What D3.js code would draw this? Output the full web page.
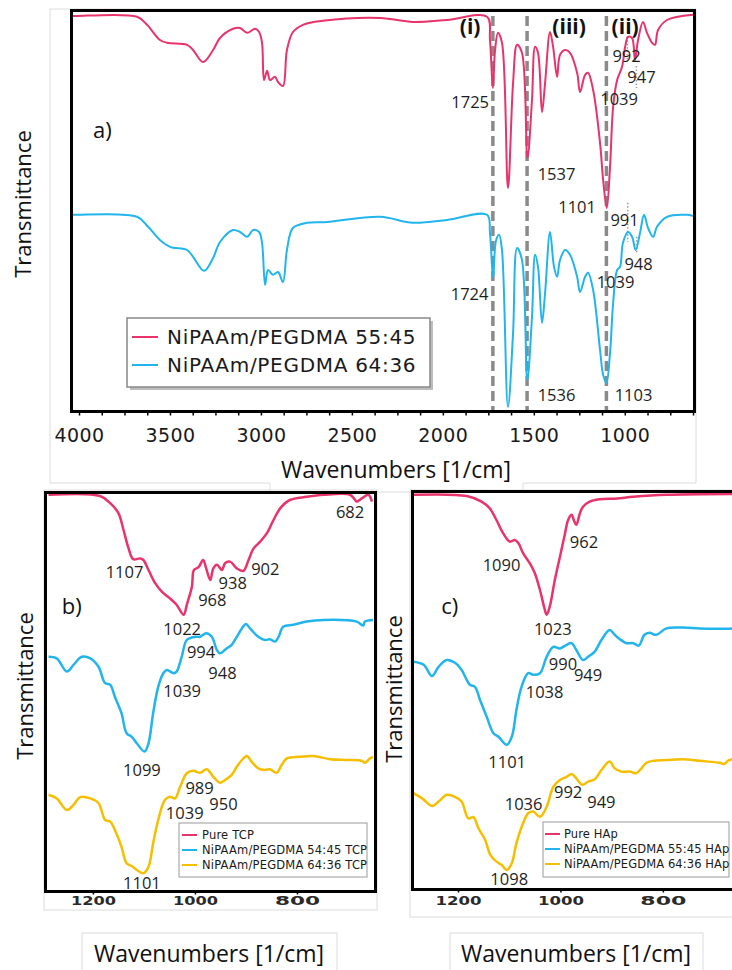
<!DOCTYPE html>
<html>
<head>
<meta charset="utf-8">
<script src="https://d3js.org/d3.v7.min.js"></script>
<style>
  body { margin: 0; background: #fff; }
  svg { display: block; }
</style>
</head>
<body>
<div id="chart"></div>
<script>
// ---------- data: [wavenumber 1/cm, transmittance a.u.] ----------

// panel a) hydrogels
const gelA5545 = [[4033,98.5],[4011,98.5],[3681,98.3],[3626,96.3],[3555,92.5],[3516,91.8],[3406,91.3],[3373,90],[3318,87],[3263,90],[3225,93],[3153,95.3],[3115,95.5],[3076,94.3],[3032,95.3],[3010,94.5],[2994,91.8],[2983,82.5],[2966,84.8],[2950,82.5],[2923,83.3],[2906,82],[2879,81],[2857,90],[2824,94.5],[2769,96.3],[2659,97.3],[2345,98],[2164,97],[1977,97.5],[1757,98.3],[1741,92.5],[1725,80.5],[1713,90],[1697,94.3],[1675,91.8],[1642,55.5],[1614,81.8],[1592,91.3],[1565,89.3],[1535,63],[1510,77.5],[1493,90.8],[1477,89.3],[1455,74.5],[1438,81.8],[1411,94.5],[1394,90.8],[1372,83.3],[1356,88.8],[1328,90],[1301,89.3],[1262,84.3],[1246,79.5],[1218,83.8],[1202,84.3],[1174,80],[1136,66.8],[1119,57.5],[1099,50.5],[1081,60.8],[1064,75.8],[1042,82.5],[1015,85.8],[998,90.8],[982,93.3],[960,93],[944,87.5],[927,92.5],[900,97],[878,94.3],[850,91.8],[834,91.3],[817,95],[768,97.5],[625,98.8]];
const gelA6436 = [[4033,48.8],[4011,48.8],[3681,48.3],[3620,45.8],[3555,42.5],[3500,40.8],[3406,40],[3373,38.3],[3312,34.8],[3263,38],[3225,42],[3153,45],[3115,44.5],[3076,43.3],[3043,45],[3010,44.5],[2994,41.8],[2977,31.3],[2961,35],[2934,33.8],[2906,34.5],[2879,32],[2857,40],[2824,45.5],[2747,46.8],[2637,47],[2345,48.3],[2164,46.8],[1977,47.5],[1757,48.8],[1741,44.3],[1724,33],[1708,42.3],[1691,43.8],[1675,40],[1642,0.8],[1614,19.3],[1592,40.5],[1565,37.5],[1536,7.5],[1510,23.3],[1493,38.8],[1477,35.8],[1455,21.8],[1438,29.3],[1411,44.5],[1389,35.8],[1372,33.3],[1356,37.5],[1328,40],[1301,38.8],[1262,33.3],[1246,29.5],[1218,33.3],[1202,34.3],[1174,30],[1136,15],[1119,8.8],[1101,6.8],[1081,14.3],[1064,26.8],[1042,35],[1026,35.8],[1010,41.8],[982,44.5],[960,43.3],[940,40],[916,44.3],[894,48.8],[872,45.5],[844,43.3],[823,45.8],[768,48.3],[657,48.8],[625,48.5]];

// panel b) TCP
const tcpPure = [[1287,98.8],[1186,98.5],[1166,96.7],[1150,94.2],[1140,90],[1131,85.8],[1121,82.7],[1107,82.9],[1101,82.5],[1091,80],[1078,76.7],[1065,74.6],[1049,72.9],[1036,71.3],[1022,68.8],[1016,71.3],[1006,75.8],[1002,80],[993,80.7],[984,82.5],[978,80.4],[970,77.5],[964,80.4],[957,81.3],[947,80],[941,81.7],[931,82.1],[918,80.4],[905,79.8],[895,82.5],[885,85.4],[872,87.1],[859,89.2],[846,92.5],[833,95.4],[814,97.5],[781,98.3],[748,98.8],[696,98.8],[686,97.5],[683,97.1],[673,97.9],[660,98.8],[653,97.1]];
const tcp5445 = [[1287,58.3],[1271,57.9],[1251,54.6],[1238,56.3],[1222,58.3],[1205,57.9],[1189,55.8],[1176,51.7],[1166,51.3],[1157,48.3],[1144,44.2],[1134,39.2],[1124,38.3],[1114,36.7],[1099,34.6],[1091,36.7],[1082,44.2],[1072,50.8],[1062,54.2],[1055,55],[1042,54.2],[1036,54.6],[1026,58.3],[1016,62.5],[1000,63.3],[990,63.3],[978,64.2],[967,63.3],[957,60],[951,59.2],[938,60.4],[928,61.3],[918,63.3],[908,65.4],[900,66.5],[892,65.4],[876,63.3],[863,62.5],[853,62.7],[843,62.1],[836,63.3],[827,65.8],[807,66.3],[781,67.1],[748,67.5],[683,67.1],[670,66.1],[667,67.1],[651,67.5]];
const tcp6436 = [[1287,23.8],[1271,22.9],[1251,20],[1238,21.3],[1225,23.2],[1205,22.9],[1189,21.7],[1176,17.5],[1166,17.1],[1157,15],[1144,10.8],[1134,6.7],[1124,6],[1114,5],[1101,4.2],[1091,5.8],[1082,11.7],[1072,17.5],[1059,22.5],[1049,23.3],[1039,22.9],[1029,25.8],[1016,29.2],[1003,29.8],[990,29.3],[977,30.2],[964,28.3],[951,26.8],[941,27.5],[928,28.8],[918,30.8],[908,32.5],[898,33.5],[889,32.1],[876,30.4],[863,30],[853,30.2],[840,29.3],[830,31.3],[820,32.9],[794,33.3],[768,33.5],[735,32.7],[703,32.5],[673,32.3],[667,31.8],[657,32.9],[651,33.3]];

// panel c) HAp
const hapPure = [[1287,98.3],[1183,98],[1154,96.6],[1138,94.9],[1125,92],[1112,88.7],[1099,86.6],[1089,87],[1082,86.2],[1073,83.7],[1060,81.2],[1050,78.7],[1040,74.5],[1032,70.3],[1027,68.3],[1021,70.3],[1011,77],[1001,82.8],[991,88.7],[985,92],[978,93.3],[974,92],[969,90.8],[962,93.7],[956,95.3],[943,96.6],[923,97.2],[890,97.4],[858,97.8],[793,98.3],[665,98.5]];
const hap5545 = [[1287,56.6],[1267,55.8],[1251,53],[1238,55.3],[1222,57],[1206,56.3],[1193,54.5],[1177,50.8],[1167,50.3],[1157,47],[1144,42.8],[1131,38.7],[1121,37.8],[1105,35.8],[1095,37.8],[1086,44.5],[1076,50.3],[1063,53.7],[1053,53.3],[1040,53.7],[1027,57.8],[1014,60.3],[1001,59.9],[988,60.8],[978,61.2],[969,59.5],[956,57],[946,57.8],[933,59.1],[920,62],[904,64.5],[894,63.3],[884,62.2],[871,61.2],[858,61.2],[847,60.6],[836,63.3],[826,63.8],[813,63.3],[793,64.9],[761,65.1],[728,64.9],[676,64.8],[665,64.9]];
const hap6436 = [[1287,23.7],[1270,22.4],[1251,20.5],[1238,21.6],[1222,23.3],[1206,22.8],[1193,21.6],[1180,17.4],[1170,17.7],[1160,14.9],[1147,12],[1137,8.3],[1125,6.6],[1115,5.8],[1105,4.5],[1095,6.2],[1086,11.2],[1073,16.2],[1063,18.7],[1053,19.1],[1040,17.8],[1027,20.3],[1014,25.3],[1001,27],[988,27.8],[978,28.5],[969,27.4],[957,25.8],[946,26.6],[933,27.2],[920,29.5],[904,31.6],[894,29.9],[881,29.1],[865,29.1],[852,28.7],[842,29.9],[832,31.3],[819,31.8],[793,32],[761,32.2],[728,31.8],[689,31.3],[680,31],[673,31.8],[665,32.2]];

// legend names
const namesA = ["NiPAAm/PEGDMA 55:45", "NiPAAm/PEGDMA 64:36"];
const namesB = ["Pure TCP", "NiPAAm/PEGDMA 54:45 TCP", "NiPAAm/PEGDMA 64:36 TCP"];
const namesC = ["Pure HAp", "NiPAAm/PEGDMA 55:45 HAp", "NiPAAm/PEGDMA 64:36 HAp"];

// tick labels
const ticksA = [4000, 3500, 3000, 2500, 2000, 1500, 1000];
const ticksBC = [1200, 1000, 800];

// band marker lines in a): (i) (iii) (ii)
const bandLines = [1725, 1537, 1101];
const bandNames = [["(i)", 1850], ["(iii)", 1306], ["(ii)", 998]];

// peak labels [text, wavenumber, transmittance]
const peaksA = [["1725",1850,75.5],["1537",1375,57.5],["1101",1262,49.3],["1039",1031,76.3],["992",990,87],["947",908,81.8],
  ["991",1001,46],["948",924,35],["1039",1051,30.5],["1724",1853,27.5],["1536",1375,2.3],["1103",952,2.3]];
const peaksB = [["682",696,93],["1107",1138,78],["902",862,78.8],["938",926,75.3],["968",966,71],["1022",1025,63.8],
  ["994",988,58],["948",946,52.8],["1039",1025,48.3],["1099",1104,28.5],["989",991,24],["950",944,20],["1039",1020,17.8],["1101",1104,0.3]];
const peaksC = [["962",954,85],["1090",1115,79.3],["1023",1015,63.3],["990",995,54.5],["949",946,51.8],["1038",1031,47.5],
  ["1101",1104,30],["1036",1072,19.5],["992",985,22.5],["949",920,20],["1098",1100,0.8]];

// ---------- drawing ----------
let red = "#E8336B", blue = "#22B5EB", yellow = "#F5BF00";
let colors = [red, blue, yellow];

let svg = d3.select("#chart").append("svg").attr("width", 732).attr("height", 970);

// faint borders of the pasted images
let faint = svg.append("g").attr("fill", "none").attr("stroke", "#dcdcdc").attr("stroke-width", 1);
faint.append("path").attr("d", "M50,9H696V483H523V492H270V483H50Z");
faint.append("rect").attr("x", 44).attr("y", 490).attr("width", 333).attr("height", 420);
faint.append("rect").attr("x", 82).attr("y", 933).attr("width", 255).attr("height", 50);
faint.append("rect").attr("x", 410).attr("y", 490).attr("width", 340).attr("height", 427);
faint.append("rect").attr("x", 450).attr("y", 933).attr("width", 253).attr("height", 50);

function panel(p) {
  let g = svg.append("g");
  let x = d3.scaleLinear().domain(p.xDomain).range(p.xRange);
  let y = d3.scaleLinear().domain(p.yDomain).range(p.yRange);
  let x0 = p.xRange[0], x1 = p.xRange[1], yb = p.yRange[0], yt = p.yRange[1];

  g.append("clipPath").attr("id", p.id)
    .append("rect").attr("x", x0).attr("y", yt).attr("width", x1 - x0).attr("height", yb - yt);

  let line = d3.line()
    .x(d => x(d[0]))
    .y(d => y(d[1]))
    .curve(d3.curveCatmullRom.alpha(0.5));

  // extra annotations drawn under the curves
  if (p.under) p.under(g, x, y);

  p.series.forEach(function (s, i) {
    g.append("path")
      .datum(s)
      .attr("clip-path", "url(#" + p.id + ")")
      .attr("fill", "none")
      .attr("stroke", colors[i])
      .attr("stroke-width", p.lw)
      .attr("stroke-linejoin", "round")
      .attr("d", line);
  });

  // frame
  g.append("rect")
    .attr("x", x0 - 1.5).attr("y", yt - 1.5)
    .attr("width", p.frameW).attr("height", yb - yt + 3)
    .attr("fill", "none").attr("stroke", "#000").attr("stroke-width", 3);

  // x axis
  let ax = d3.axisBottom(x).tickValues(p.tickValues).tickSize(p.tickSize)
    .tickFormat(d => (p.tickLabels.indexOf(d) >= 0 ? d : ""));
  let axg = g.append("g").attr("transform", "translate(0," + (yb + 1.5) + ")").call(ax);
  axg.select(".domain").remove();
  axg.selectAll(".tick line").attr("stroke", "#000").attr("stroke-width", 1.5);
  p.styleTicks(axg.selectAll(".tick text"));

  // peak labels
  g.selectAll("text.peak")
    .data(p.peaks)
    .enter()
    .append("text")
    .attr("class", "peak")
    .attr("x", d => x(d[1]))
    .attr("y", d => y(d[2]))
    .attr("text-anchor", "middle")
    .attr("font-family", "Open Sans")
    .attr("font-size", 16.5)
    .attr("fill", "#1e1e1e")
    .text(d => d[0]);

  // panel letter
  g.append("text")
    .attr("x", x(p.letter[1])).attr("y", y(p.letter[2]))
    .attr("font-family", "Open Sans").attr("font-size", 22).attr("fill", "#111")
    .text(p.letter[0]);

  // legend
  let lg = g.append("g");
  let L = p.legend;
  if (L.shadow) {
    lg.append("rect").attr("x", L.x + 3).attr("y", L.y + 3).attr("width", L.w).attr("height", L.h)
      .attr("fill", "#bdbdbd");
  }
  lg.append("rect").attr("x", L.x).attr("y", L.y).attr("width", L.w).attr("height", L.h)
    .attr("fill", "#fff").attr("stroke", L.stroke).attr("stroke-width", L.sw);
  L.names.forEach(function (name, i) {
    let ly = L.y + L.first + i * L.step;
    lg.append("line")
      .attr("x1", L.x + L.pad).attr("x2", L.x + L.pad + L.len)
      .attr("y1", ly).attr("y2", ly)
      .attr("stroke", colors[i]).attr("stroke-width", L.lw);
    lg.append("text")
      .attr("x", L.x + L.pad + L.len + L.gap).attr("y", ly + L.fs * 0.36)
      .attr("font-family", "DejaVu Sans").attr("font-size", L.fs)
      .attr("letter-spacing", L.ls).attr("fill", "#1a1a1a")
      .text(name);
  });

  // axis titles
  g.append("text")
    .attr("transform", "translate(" + p.yTitle[0] + "," + p.yTitle[1] + ") rotate(-90)")
    .attr("text-anchor", "middle").attr("font-family", "Open Sans").attr("font-size", 22)
    .attr("fill", "#111").text("Transmittance");
  g.append("text")
    .attr("x", p.xTitle[0]).attr("y", p.xTitle[1])
    .attr("text-anchor", "middle").attr("font-family", "Open Sans").attr("font-size", 23)
    .attr("fill", "#111").text("Wavenumbers [1/cm]");
}

// panel a
panel({
  id: "clipA",
  xDomain: [4033, 625], xRange: [73, 693],
  yDomain: [0, 99.5], yRange: [410, 12],
  frameW: 623, lw: 2,
  series: [gelA5545, gelA6436],
  tickValues: d3.range(4000, 624, -125), tickLabels: ticksA, tickSize: 4,
  styleTicks: function (t) {
    t.attr("y", 17).attr("font-family", "DejaVu Sans").attr("font-size", 19)
      .attr("letter-spacing", 0.4).attr("fill", "#1a1a1a");
  },
  under: function (g, x, y) {
    g.selectAll("line.band").data(bandLines).enter().append("line")
      .attr("x1", d => x(d)).attr("x2", d => x(d))
      .attr("y1", y(98.5)).attr("y2", y(0))
      .attr("stroke", "#8a8a8a").attr("stroke-width", 3.5).attr("stroke-dasharray", "10,5");
    g.selectAll("text.band").data(bandNames).enter().append("text")
      .attr("x", d => x(d[1])).attr("y", y(94))
      .attr("text-anchor", "middle").attr("font-family", "Open Sans").attr("font-weight", "bold")
      .attr("font-size", 21).attr("fill", "#111").text(d => d[0]);
    // dotted peak markers near 990 / 947
    [[986, 93.3, 87], [936, 86, 80.5], [984, 51.8, 42], [934, 43.3, 39.3]].forEach(function (m) {
      g.append("line").attr("x1", x(m[0])).attr("x2", x(m[0]))
        .attr("y1", y(m[1])).attr("y2", y(m[2]))
        .attr("stroke", "#999").attr("stroke-width", 1.5).attr("stroke-dasharray", "1.5,2");
    });
  },
  peaks: peaksA,
  letter: ["a)", 3923, 68],
  legend: { x: 127, y: 318, w: 303, h: 69, names: namesA, first: 19, step: 28, pad: 5, len: 26, gap: 9,
            fs: 20, ls: 0.7, lw: 2, stroke: "#888", sw: 1.5, shadow: true },
  yTitle: [31, 204], xTitle: [396, 478]
});

// panel b
panel({
  id: "clipB",
  xDomain: [1290, 651], xRange: [47, 373],
  yDomain: [0, 99], yRange: [890, 494],
  frameW: 330, lw: 2.5,
  series: [tcpPure, tcp5445, tcp6436],
  tickValues: ticksBC, tickLabels: ticksBC, tickSize: 3,
  styleTicks: function (t) {
    t.attr("y", 13).attr("dy", 0).attr("font-family", "DejaVu Sans").attr("font-weight", "bold")
      .attr("font-size", 12).attr("textLength", 45).attr("lengthAdjust", "spacingAndGlyphs")
      .attr("fill", "#2a2a2a");
  },
  peaks: peaksB,
  letter: ["b)", 1261, 69],
  legend: { x: 179, y: 823, w: 188, h: 54, names: namesB, first: 12, step: 15, pad: 3, len: 15, gap: 5,
            fs: 11.5, ls: 0.2, lw: 2, stroke: "#9a9a9a", sw: 1, shadow: false },
  yTitle: [33, 686], xTitle: [209, 962]
});

// panel c
panel({
  id: "clipC",
  xDomain: [1286, 665], xRange: [414, 732],
  yDomain: [0, 98.75], yRange: [888, 493],
  frameW: 340, lw: 2.5,
  series: [hapPure, hap5545, hap6436],
  tickValues: ticksBC, tickLabels: ticksBC, tickSize: 3,
  styleTicks: function (t) {
    t.attr("y", 15).attr("dy", 0).attr("font-family", "DejaVu Sans").attr("font-weight", "bold")
      .attr("font-size", 12).attr("textLength", 46).attr("lengthAdjust", "spacingAndGlyphs")
      .attr("fill", "#2a2a2a");
  },
  peaks: peaksC,
  letter: ["c)", 1233, 68.5],
  legend: { x: 543, y: 822, w: 186, h: 55, names: namesC, first: 12, step: 15, pad: 2, len: 15, gap: 4,
            fs: 11.5, ls: 0.1, lw: 2, stroke: "#9a9a9a", sw: 1, shadow: false },
  yTitle: [402, 689], xTitle: [576, 962]
});
</script>
</body>
</html>
